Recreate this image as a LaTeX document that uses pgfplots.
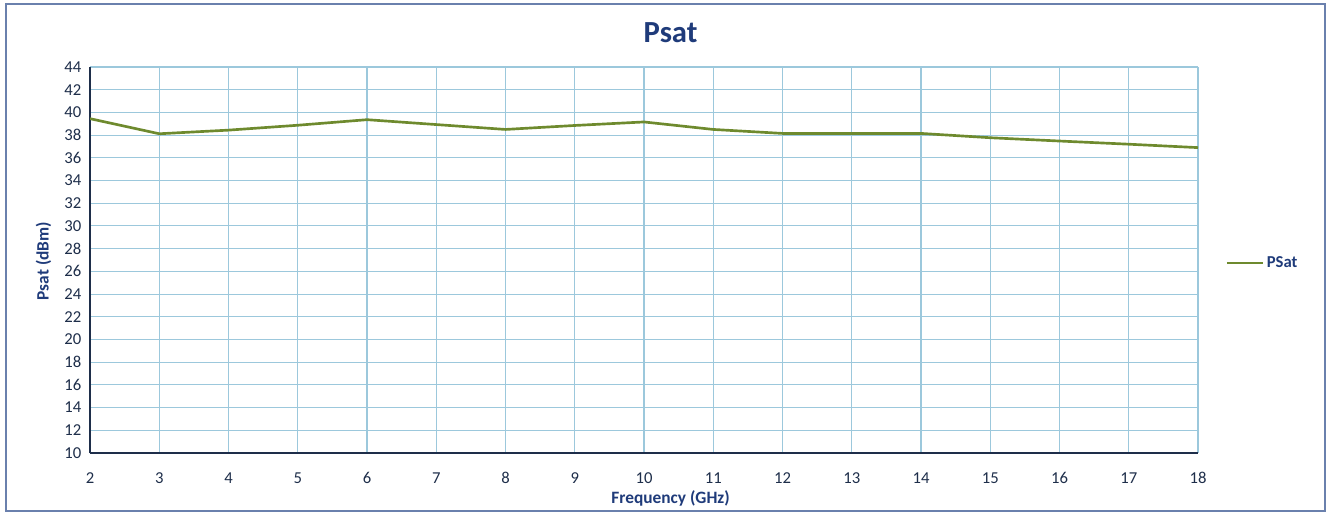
\documentclass[border=0pt]{standalone}
\usepackage{pgfplots}
\pgfplotsset{compat=1.18}
\usepackage{fontspec}
\setmainfont{Carlito}
\definecolor{titleblue}{HTML}{1F3B7A}
\definecolor{gridblue}{HTML}{9CC8DC}
\definecolor{axisdark}{HTML}{1E2E4A}
\definecolor{olive}{HTML}{6E8A2E}
\definecolor{frameblue}{HTML}{2A4A8A}
\begin{document}
\begin{tikzpicture}[x=0.75pt,y=0.75pt]
\path[use as bounding box] (0,0) rectangle (1331,515);
\draw[frameblue!70, line width=1pt] (6,4) rectangle (1325,511);
\begin{axis}[
  at={(67.5pt,46.5pt)}, anchor=south west,
  scale only axis, width=831pt, height=289.5pt,
  xmin=2, xmax=18, ymin=10, ymax=44,
  xtick={2,3,...,18}, ytick={10,12,...,44},
  /pgf/number format/assume math mode=true,
  axis x line*=bottom, axis y line*=left,
  axis line style={axisdark, line width=1pt, -},
  major tick length=0pt,
  grid=major, major grid style={gridblue, line width=0.8pt},
  tick label style={font=\fontsize{12.5}{14}\selectfont, text=axisdark},
  xticklabel style={yshift=-11pt},
  yticklabel style={xshift=-3pt},
  title={\fontsize{23}{25}\selectfont\bfseries Psat},
  title style={text=titleblue, at={(0.524,1.044)}, anchor=base},
  xlabel={Frequency (GHz)}, ylabel={Psat (dBm)},
  label style={font=\fontsize{13}{15}\selectfont\bfseries, text=titleblue},
  xlabel style={at={(0.524,-0.118)}, anchor=center},
  ylabel style={at={(-0.042,0.497)}, anchor=center},
  legend style={at={(1.021,0.492)}, anchor=west, draw=none, fill=none,
    font=\fontsize{12.5}{14}\selectfont\bfseries, text=titleblue,
    /tikz/every even column/.append style={column sep=0pt}},
  legend image code/.code={\draw[#1] (0pt,0pt) -- (27pt,0pt);},
  legend cell align=left,
  legend entries={PSat},
]
\addplot[olive, line width=2pt, mark=none] coordinates {
(2,39.45) (3,38.12) (4,38.44) (5,38.87) (6,39.36) (7,38.93) (8,38.5) (9,38.85)
(10,39.16) (11,38.5) (12,38.15) (13,38.15) (14,38.15) (15,37.77) (16,37.48) (17,37.2) (18,36.9)
};
\end{axis}
\end{tikzpicture}
\end{document}
